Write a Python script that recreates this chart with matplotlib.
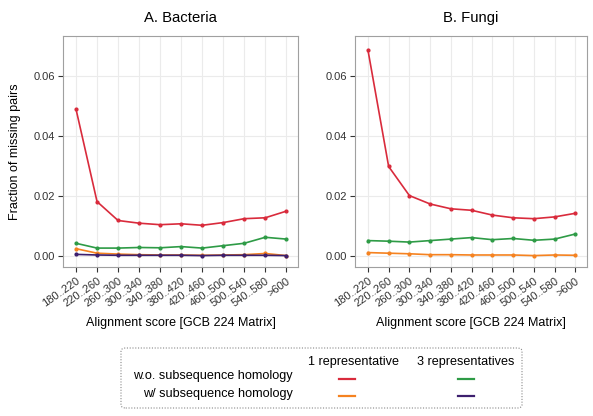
import matplotlib
matplotlib.use("Agg")
import matplotlib.pyplot as plt
from matplotlib.lines import Line2D
from matplotlib.patches import FancyBboxPatch

plt.rcParams["font.family"] = ["Liberation Sans", "DejaVu Sans"]

bins = ["180..220", "220..260", "260..300", "300..340", "340..380", "380..420",
        "420..460", "460..500", "500..540", "540..580", ">600"]

# A. Bacteria
bact_red = [0.0489, 0.0181, 0.0118, 0.0109, 0.0104, 0.0107, 0.0102, 0.0111, 0.0124, 0.0127, 0.0149]
bact_green = [0.0042, 0.0026, 0.0026, 0.0028, 0.0027, 0.0031, 0.0026, 0.0034, 0.0042, 0.0062, 0.0056]
bact_orange = [0.0024, 0.0009, 0.0006, 0.0004, 0.0003, 0.0003, 0.0002, 0.0003, 0.0004, 0.0008, 0.0001]
bact_purple = [0.0005, 0.0003, 0.0002, 0.0002, 0.0002, 0.0002, 0.0001, 0.0002, 0.0002, 0.0002, 0.0001]

# B. Fungi
fungi_red = [0.0687, 0.0298, 0.0201, 0.0173, 0.0157, 0.0152, 0.0136, 0.0127, 0.0124, 0.0130, 0.0142]
fungi_green = [0.0051, 0.0049, 0.0046, 0.0051, 0.0056, 0.0061, 0.0054, 0.0058, 0.0052, 0.0056, 0.0073]
fungi_orange = [0.0011, 0.0009, 0.0007, 0.0004, 0.0004, 0.0003, 0.0003, 0.0003, 0.0001, 0.0003, 0.0002]

yticks = [0.00, 0.02, 0.04, 0.06]

c_red = "#d92b3c"
c_green = "#2e9b46"
c_orange = "#f58220"
c_purple = "#3d1f6e"

fig = plt.figure(figsize=(5.93, 4.16), dpi=100)
ax1 = fig.add_axes([0.1062, 0.3582, 0.3963, 0.5553])
ax2 = fig.add_axes([0.5987, 0.3582, 0.3912, 0.5553])

x = list(range(len(bins)))

def style(ax, title):
    ax.set_xlim(-0.62, 10.56)
    ax.set_ylim(-0.0037, 0.0733)
    ax.set_yticks(yticks)
    ax.set_yticklabels(["%.2f" % v for v in yticks])
    ax.set_xticks(x)
    ax.set_xticklabels(bins, rotation=35, ha="right", rotation_mode="anchor")
    ax.grid(True, color="#ebebeb", lw=0.8)
    ax.set_axisbelow(True)
    for s in ax.spines.values():
        s.set_color("#a0a0a0")
        s.set_linewidth(0.8)
    ax.tick_params(axis="both", colors="#333333", labelsize=8, length=3.5, width=0.8, pad=2)
    ax.tick_params(axis="x", pad=3)
    ax.set_title(title, fontsize=10.7, pad=10)
    ax.set_xlabel("Alignment score [GCB 224 Matrix]", fontsize=9, labelpad=6)

def draw(ax, ys, c):
    ax.plot(x, ys, color=c, lw=1.2, marker="o", ms=2, zorder=3)

draw(ax1, bact_red, c_red)
draw(ax1, bact_green, c_green)
draw(ax1, bact_orange, c_orange)
draw(ax1, bact_purple, c_purple)
style(ax1, "A. Bacteria")
ax1.set_ylabel("Fraction of missing pairs", fontsize=9, labelpad=9)

draw(ax2, fungi_red, c_red)
draw(ax2, fungi_green, c_green)
draw(ax2, fungi_orange, c_orange)
style(ax2, "B. Fungi")

# legend box
W, H = 593.0, 416.0
def fx(px):
    return px / W
def fy(py):
    return 1 - py / H

box = FancyBboxPatch((fx(121), fy(408)), fx(522) - fx(121), fy(348) - fy(408),
                     boxstyle="round,pad=0,rounding_size=0.008", transform=fig.transFigure,
                     fill=False, ec="#888888", lw=0.8, ls=(0, (1, 1.5)))
fig.add_artist(box)
fs = 9.1
fig.text(fx(353.5), fy(362), "1 representative", ha="center", va="center", fontsize=fs)
fig.text(fx(465.5), fy(362), "3 representatives", ha="center", va="center", fontsize=fs)
fig.text(fx(293), fy(376), "w.o. subsequence homology", ha="right", va="center", fontsize=fs)
fig.text(fx(293), fy(394), "w/ subsequence homology", ha="right", va="center", fontsize=fs)
for cx, cy, c in [(347, 379, c_red), (466, 379, c_green), (347, 396, c_orange), (466, 396, c_purple)]:
    fig.add_artist(Line2D([fx(cx - 8), fx(cx + 8)], [fy(cy), fy(cy)], color=c, lw=1.6,
                          transform=fig.transFigure))

fig.savefig("out.png", dpi=100)
